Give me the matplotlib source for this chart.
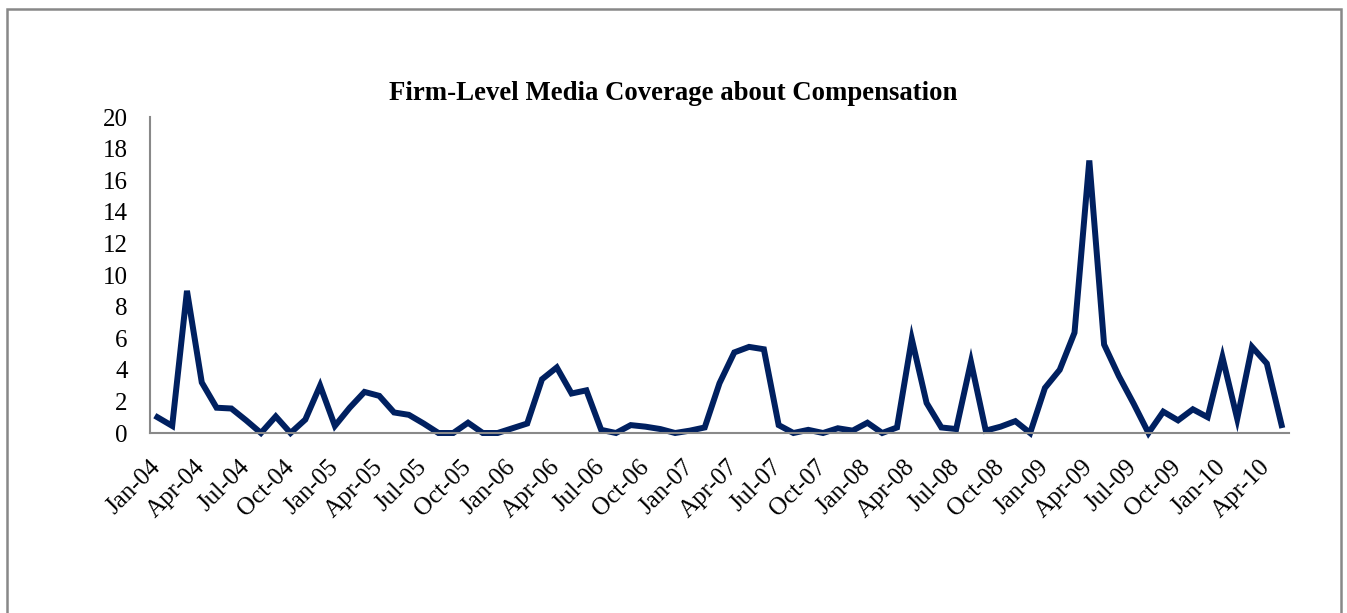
import matplotlib
matplotlib.use("Agg")
import matplotlib.pyplot as plt
from matplotlib.patches import Rectangle
import pandas as pd

# monthly firm-level media coverage, Jan-2004 .. May-2010
coverage = [
    1.0, 0.45, 9.0, 3.2, 1.6, 1.55, 0.8, 0.0, 1.05, 0.0, 0.85, 3.0,      # 2004
    0.45, 1.6, 2.6, 2.35, 1.3, 1.15, 0.6, 0.0, 0.0, 0.65, 0.0, 0.0,      # 2005
    0.3, 0.6, 3.4, 4.15, 2.5, 2.7, 0.2, 0.0, 0.5, 0.4, 0.25, 0.0,        # 2006
    0.15, 0.35, 3.15, 5.1, 5.45, 5.3, 0.5, 0.0, 0.2, 0.0, 0.3, 0.15,     # 2007
    0.65, 0.0, 0.35, 5.95, 1.9, 0.35, 0.25, 4.5, 0.15, 0.4, 0.75, 0.0,   # 2008
    2.85, 4.0, 6.35, 17.25, 5.6, 3.6, 1.85, 0.0, 1.35, 0.8, 1.5, 1.0,    # 2009
    4.8, 0.9, 5.45, 4.4, 0.5,                                            # 2010
]
months = pd.date_range("2004-01-01", periods=len(coverage), freq="MS")
month_labels = [m.strftime("%b-%y") for m in months]
y_ticks = [0, 2, 4, 6, 8, 10, 12, 14, 16, 18, 20]

plt.rcParams["font.family"] = ["Liberation Serif", "DejaVu Serif"]

fig = plt.figure(figsize=(13.47, 6.13), dpi=100)
fig.patches.append(Rectangle((7 / 1347, -0.05), (1341 - 7) / 1347, 1 - 9 / 613 + 0.05,
                             transform=fig.transFigure, fill=False,
                             edgecolor="#888888", linewidth=1.8, zorder=0))

ax = fig.add_axes([150 / 1347, 1 - 433 / 613, (1289 - 150) / 1347, (433 - 117) / 613])
x = list(range(len(coverage)))
ax.plot(x, coverage, color="#002060", linewidth=4.3, solid_joinstyle="miter", clip_on=False)

ax.set_xlim(-0.5, len(coverage) - 0.5)
ax.set_ylim(0, 20)
ax.set_yticks(y_ticks)
ax.set_yticklabels([str(v) for v in y_ticks], fontsize=18)
ax.set_xticks(x[::3])
ax.set_xticklabels(month_labels[::3], fontsize=18, rotation=45,
                   ha="right", va="center", rotation_mode="anchor")
ax.tick_params(axis="both", length=0)
ax.tick_params(axis="y", pad=16)
ax.tick_params(axis="x", pad=22)

for side in ["top", "right"]:
    ax.spines[side].set_visible(False)
for side in ["left", "bottom"]:
    ax.spines[side].set_color("#898989")
    ax.spines[side].set_linewidth(1.5)

fig.text(0.5, 1 - 94 / 613, "Firm-Level Media Coverage about Compensation",
         ha="center", va="center", fontsize=19.3, fontweight="bold")

fig.savefig("out.png", dpi=100)
